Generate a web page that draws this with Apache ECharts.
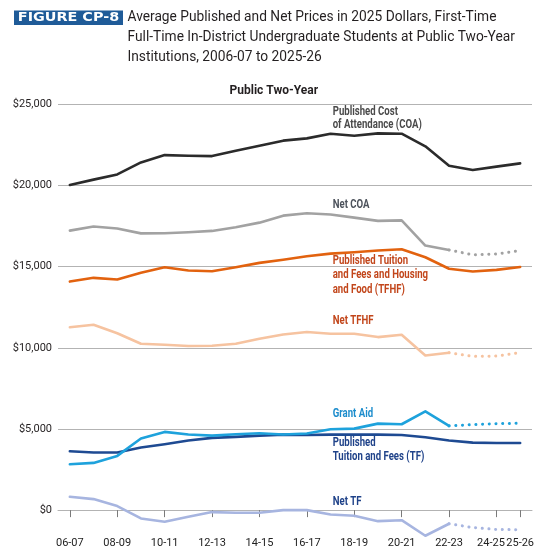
<!DOCTYPE html>
<html>
<head>
<meta charset="utf-8">
<script src="https://cdn.jsdelivr.net/npm/echarts@6.0.0/dist/echarts.min.js"></script>
<style>
html,body{margin:0;padding:0;background:#fff;}
#chart{width:553px;height:558px;}
</style>
</head>
<body>
<div id="chart"></div>
<script>
var categories = ['06-07','07-08','08-09','09-10','10-11','11-12','12-13','13-14','14-15','15-16','16-17','17-18','18-19','19-20','20-21','21-22','22-23','23-24','24-25','25-26'];
var shownLabels = ['06-07','08-09','10-11','12-13','14-15','16-17','18-19','20-21','22-23','24-25','25-26'];
var yTicks = [0, 5000, 10000, 15000, 20000, 25000];

var publishedCOA = [20030, 20360, 20680, 21420, 21870, 21830, 21810, 22140, 22450, 22760, 22900, 23190, 23060, 23210, 23190, 22410, 21220, 20950, 21160, 21360];
var netCOA       = [17220, 17470, 17350, 17050, 17060, 17120, 17200, 17430, 17710, 18140, 18290, 18210, 18020, 17820, 17850, 16300, 16030, 15730, 15780, 15990];
var publishedTFHF= [14080, 14310, 14210, 14620, 14960, 14760, 14720, 14960, 15230, 15420, 15640, 15800, 15890, 15990, 16070, 15580, 14870, 14700, 14800, 14980];
var netTFHF      = [11270, 11420, 10900, 10250, 10190, 10110, 10130, 10250, 10560, 10820, 10970, 10870, 10870, 10660, 10800, 9530, 9700, 9470, 9490, 9700];
var grantAid     = [2830, 2910, 3340, 4410, 4820, 4660, 4590, 4670, 4740, 4660, 4720, 4980, 5020, 5330, 5290, 6090, 5190, 5270, 5330, 5350];
var publishedTF  = [3630, 3550, 3550, 3860, 4060, 4290, 4450, 4510, 4590, 4650, 4630, 4650, 4650, 4650, 4630, 4490, 4290, 4160, 4140, 4140];
var netTF        = [820, 680, 250, -510, -720, -410, -120, -160, -160, 0, 0, -270, -350, -680, -620, -1580, -840, -1070, -1190, -1210];

var projStart = 16; // 22-23 onward shown dotted for net/aid series

function solidPart(arr, dotted) {
  return arr.map(function (v, i) { return (!dotted || i <= projStart) ? v : null; });
}
function dottedPart(arr) {
  return arr.map(function (v, i) { return i >= projStart ? v : null; });
}

var specs = [
  {name: 'Net TF', data: netTF, color: '#a7b5e0', dotted: true},
  {name: 'Published TF', data: publishedTF, color: '#1e4a92', dotted: false},
  {name: 'Grant Aid', data: grantAid, color: '#1ea2dc', dotted: true},
  {name: 'Net TFHF', data: netTFHF, color: '#f6c3a0', dotted: true},
  {name: 'Published TFHF', data: publishedTFHF, color: '#e2620f', dotted: false},
  {name: 'Net COA', data: netCOA, color: '#a2a2a2', dotted: true},
  {name: 'Published COA', data: publishedCOA, color: '#2b2b2b', dotted: false}
];

var series = [];
specs.forEach(function (s) {
  series.push({
    name: s.name, type: 'line', data: solidPart(s.data, s.dotted),
    symbol: 'none', connectNulls: false, silent: true,
    lineStyle: {color: s.color, width: 2.6, join: 'round', cap: 'round'}
  });
  if (s.dotted) {
    series.push({
      name: s.name + ' projected', type: 'line', data: dottedPart(s.data),
      symbol: 'none', silent: true,
      lineStyle: {color: s.color, width: 3, type: [0.1, 6.6], cap: 'round'}
    });
  }
});

function money(v) {
  var s = String(Math.abs(v));
  s = s.replace(/\B(?=(\d{3})+(?!\d))/g, ',');
  return '$' + s;
}

var labelFont = "bold 12px Roboto, 'Noto Sans', sans-serif";
function lbl(text, x, y, color, lh) {
  return {
    type: 'text', x: x, y: y, scaleX: 0.8, scaleY: 1, silent: true,
    style: {text: text, font: labelFont, fill: color, align: 'left', verticalAlign: 'middle', lineHeight: lh || 14}
  };
}

var gridTop = 104.3, gridHeight = 487, yMin = -5000, yMax = 25000;
// place the category axis at the zero line of the value axis
var zeroOffset = -gridHeight * (0 - yMin) / (yMax - yMin);

var chart = echarts.init(document.getElementById('chart'), null, {renderer: 'canvas'});
chart.setOption({
  animation: false,
  backgroundColor: '#ffffff',
  grid: {left: 58, right: 21, top: gridTop, height: gridHeight, containLabel: false, outerBoundsMode: 'none'},
  xAxis: {
    type: 'category', data: categories, boundaryGap: true, position: 'bottom', offset: zeroOffset,
    axisLine: {show: true, onZero: false, lineStyle: {color: '#b3b3b3', width: 1}},
    axisTick: {
      show: true, alignWithLabel: true, length: 7,
      interval: function (i, v) { return shownLabels.indexOf(v) >= 0; },
      lineStyle: {color: '#7a7a7a', width: 1}
    },
    axisLabel: {
      interval: function (i, v) { return shownLabels.indexOf(v) >= 0; },
      margin: 28, color: '#222', fontSize: 11, fontFamily: 'Roboto, sans-serif',
      formatter: function (v) { return v === '24-25' ? '{a|' + v + '}' : v; },
      rich: {a: {color: '#222', fontSize: 11, fontFamily: 'Roboto, sans-serif', padding: [0, 11, 0, 0]}}
    },
    splitLine: {show: false}
  },
  yAxis: {
    type: 'value', min: yMin, max: yMax, interval: 5000,
    axisLine: {show: false}, axisTick: {show: false},
    axisLabel: {
      margin: 6, color: '#231f20', fontSize: 11, fontFamily: 'Roboto, sans-serif',
      formatter: function (v) { return yTicks.indexOf(v) >= 0 ? money(v) : ''; }
    },
    splitLine: {show: true, lineStyle: {color: '#b3b3b3', width: 1}}
  },
  series: series,
  graphic: [
    {type: 'rect', x: 14, y: 10.5, silent: true, shape: {width: 109, height: 14.6}, style: {fill: '#1f5b98'}},
    {type: 'text', x: 68.5, y: 18, scaleX: 1.15, silent: true,
     style: {text: 'FIGURE CP-8', font: "bold 12.5px 'DejaVu Sans', sans-serif", fill: '#ffffff', align: 'center', verticalAlign: 'middle'}},
    {type: 'text', x: 127.5, y: 7.2, silent: true,
     style: {text: 'Average Published and Net Prices in 2025 Dollars, First-Time\nFull-Time In-District Undergraduate Students at Public Two-Year\nInstitutions, 2006-07 to 2025-26',
             font: "13.75px Roboto, sans-serif", fill: '#231f20', align: 'left', verticalAlign: 'top', lineHeight: 20}},
    {type: 'text', x: 273.8, y: 90.7, silent: true,
     style: {text: 'Public Two-Year', font: "bold 12px Roboto, sans-serif", fill: '#231f20', align: 'center', verticalAlign: 'middle'}},
    lbl('Published Cost\nof Attendance (COA)', 332.7, 118.5, '#4a4a4a', 13.7),
    lbl('Net COA', 332.7, 205, '#4d535c'),
    lbl('Published Tuition\nand Fees and Housing\nand Food (TFHF)', 332.7, 275.2, '#c2461b', 14.3),
    lbl('Net TFHF', 332.7, 321, '#c2461b'),
    lbl('Grant Aid', 332.7, 414, '#1b8ccc'),
    lbl('Published\nTuition and Fees (TF)', 332.7, 450.3, '#1f4289'),
    lbl('Net TF', 332.7, 502.3, '#1f4289')
  ]
});
</script>
</body>
</html>
